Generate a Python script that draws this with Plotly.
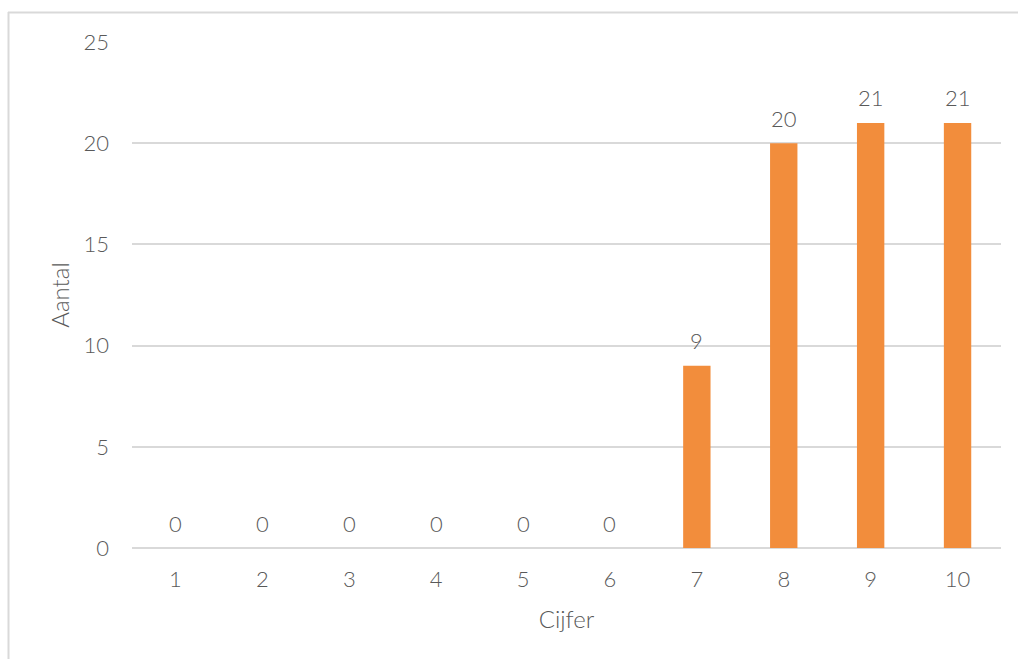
import plotly.graph_objects as go

# Frequency of each grade
cijfers = ["1", "2", "3", "4", "5", "6", "7", "8", "9", "10"]
aantallen = [0, 0, 0, 0, 0, 0, 9, 20, 21, 21]
y_ticks = [0, 5, 10, 15, 20, 25]

FONT = "Lato Light, Lato, sans-serif"
GREY = "#595959"
NUM_SIZE = 22
TITLE_SIZE = 24
W, H = 1018, 659
ML, MR, MT, MB = 132, 17, 42, 111

fig = go.Figure(
    go.Bar(
        x=cijfers,
        y=aantallen,
        marker=dict(color="#F28D3C", line=dict(width=0)),
        hoverinfo="x+y",
    )
)

# Value labels above each bar (category axis positions are indices)
for i, v in enumerate(aantallen):
    fig.add_annotation(
        x=i, y=v, text=str(v), showarrow=False,
        yanchor="middle", yshift=25,
        font=dict(family=FONT, size=NUM_SIZE, color=GREY, weight=300),
    )

# Light frame around the chart (top and left edges)
pw = W - ML - MR
ph = H - MT - MB
def px_x(p):
    return (p - ML) / pw
def px_y(p):
    return (H - MB - p) / ph

frame = dict(color="#D9D9D9", width=2)
fig.add_shape(type="line", xref="paper", yref="paper",
              x0=px_x(8), x1=px_x(1030), y0=px_y(12.5), y1=px_y(12.5), line=frame)
fig.add_shape(type="line", xref="paper", yref="paper",
              x0=px_x(8.5), x1=px_x(8.5), y0=px_y(12), y1=px_y(670), line=frame)

fig.update_layout(
    width=W, height=H,
    margin=dict(l=ML, r=MR, t=MT, b=MB),
    paper_bgcolor="white", plot_bgcolor="white",
    bargap=0.685,
    showlegend=False,
    font=dict(family=FONT, color=GREY, size=NUM_SIZE, weight=300),
    xaxis=dict(
        type="category",
        categoryorder="array", categoryarray=cijfers,
        range=[-0.5, len(cijfers) - 0.5],
        showgrid=False, showline=False, zeroline=False,
        ticks="", ticklabelstandoff=16,
        tickfont=dict(family=FONT, size=NUM_SIZE, color=GREY, weight=300),
        title=dict(text="Cijfer", standoff=20,
                   font=dict(family=FONT, size=TITLE_SIZE, color=GREY, weight=300)),
    ),
    yaxis=dict(
        range=[0, 25], tickvals=y_ticks,
        showgrid=True, gridcolor="#D9D9D9", gridwidth=1.5,
        zeroline=True, zerolinecolor="#D9D9D9", zerolinewidth=1.5,
        showline=False, ticks="", ticklabelstandoff=22,
        tickfont=dict(family=FONT, size=NUM_SIZE, color=GREY, weight=300),
        title=dict(text="Aantal", standoff=7,
                   font=dict(family=FONT, size=TITLE_SIZE, color=GREY, weight=300)),
    ),
)

fig.write_html("out.html")
